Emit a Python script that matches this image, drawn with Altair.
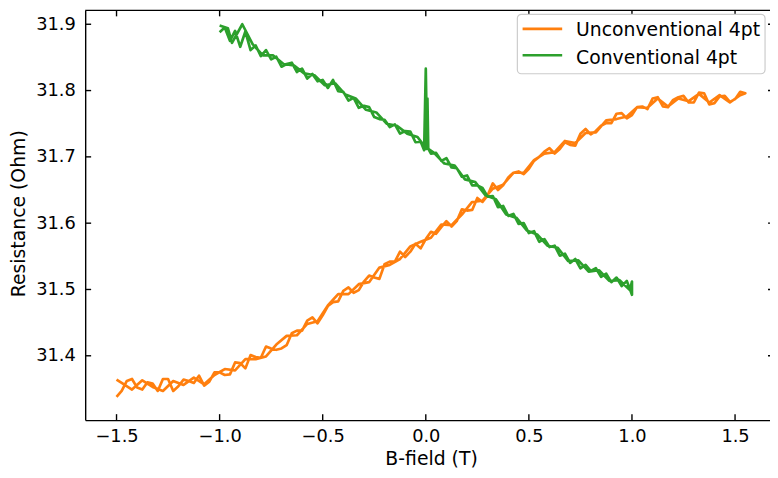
import altair as alt
import pandas as pd

U_NAME = "Unconventional 4pt"
C_NAME = "Conventional 4pt"
SERIES = [U_NAME, C_NAME]
COLORS = ["#ff7f0e", "#2ca02c"]

X_TICKS = [-1.5, -1.0, -0.5, 0.0, 0.5, 1.0, 1.5]
Y_TICKS = [31.4, 31.5, 31.6, 31.7, 31.8, 31.9]

# Unconventional 4pt: sweep up (two interleaved grids, merged by field)
U_FWD_B = [-1.50, -1.45, -1.40, -1.35, -1.30, -1.25, -1.20, -1.15, -1.10, -1.05,
           -1.00, -0.95, -0.90, -0.85, -0.80, -0.75, -0.70, -0.65, -0.60, -0.55,
           -0.50, -0.45, -0.40, -0.35, -0.30, -0.25, -0.20, -0.15, -0.10, -0.05,
           0.00, 0.05, 0.10, 0.15, 0.20, 0.25, 0.30, 0.35, 0.40, 0.45,
           0.50, 0.55, 0.60, 0.65, 0.70, 0.75, 0.80, 0.85, 0.90, 0.95,
           1.00, 1.05, 1.10, 1.15, 1.20, 1.25, 1.30, 1.35, 1.40, 1.45,
           1.50, 1.55]
U_FWD_R = [31.338, 31.362, 31.352, 31.360, 31.347, 31.365, 31.354, 31.362, 31.370, 31.361,
           31.375, 31.372, 31.389, 31.401, 31.397, 31.411, 31.411, 31.434, 31.438, 31.458,
           31.461, 31.481, 31.498, 31.495, 31.512, 31.518, 31.538, 31.542, 31.549, 31.569,
           31.576, 31.584, 31.603, 31.603, 31.619, 31.638, 31.642, 31.650, 31.669, 31.678,
           31.682, 31.700, 31.713, 31.712, 31.718, 31.735, 31.734, 31.747, 31.751, 31.766,
           31.763, 31.776, 31.788, 31.776, 31.786, 31.792, 31.782, 31.796, 31.781, 31.792,
           31.787, 31.796]
U_FWD_MID_B = [-1.475, -1.425, -1.375, -1.325, -1.275, -1.225, -1.175, -1.125, -1.075, -1.025,
               -0.975, -0.925, -0.875, -0.825, -0.775, -0.725, -0.675, -0.625, -0.575, -0.525,
               -0.475, -0.425, -0.375, -0.325, -0.275, -0.225, -0.175, -0.125, -0.075, -0.025,
               0.025, 0.075, 0.125, 0.175, 0.225, 0.275, 0.325, 0.375, 0.425, 0.475,
               0.525, 0.575, 0.625, 0.675, 0.725, 0.775, 0.825, 0.875, 0.925, 0.975,
               1.025, 1.075, 1.125, 1.175, 1.225, 1.275, 1.325, 1.375, 1.425, 1.475,
               1.525]
U_FWD_MID_R = [31.347, 31.365, 31.349, 31.358, 31.365, 31.347, 31.364, 31.359, 31.355, 31.375,
               31.371, 31.390, 31.381, 31.398, 31.414, 31.409, 31.416, 31.438, 31.453, 31.449,
               31.475, 31.482, 31.503, 31.499, 31.521, 31.516, 31.542, 31.557, 31.557, 31.562,
               31.587, 31.594, 31.595, 31.621, 31.620, 31.632, 31.660, 31.657, 31.676, 31.674,
               31.694, 31.708, 31.705, 31.722, 31.717, 31.742, 31.739, 31.751, 31.765, 31.758,
               31.775, 31.772, 31.790, 31.775, 31.790, 31.782, 31.797, 31.779, 31.791, 31.783,
               31.798]
# Unconventional 4pt: sweep down (listed by increasing field)
U_BWD_B = [-1.500, -1.475, -1.425, -1.375, -1.325, -1.275, -1.225, -1.175, -1.125, -1.075,
           -1.025, -0.975, -0.925, -0.875, -0.825, -0.775, -0.725, -0.675, -0.625, -0.575,
           -0.525, -0.475, -0.425, -0.375, -0.325, -0.275, -0.225, -0.175, -0.125, -0.075,
           -0.025, 0.025, 0.075, 0.125, 0.175, 0.225, 0.275, 0.325, 0.375, 0.425,
           0.475, 0.525, 0.575, 0.625, 0.675, 0.725, 0.775, 0.825, 0.875, 0.925,
           0.975, 1.025, 1.075, 1.125, 1.175, 1.225, 1.275, 1.325, 1.375, 1.425,
           1.475, 1.525]
U_BWD_R = [31.364, 31.359, 31.349, 31.363, 31.353, 31.347, 31.362, 31.356, 31.367, 31.357,
           31.371, 31.380, 31.378, 31.395, 31.395, 31.399, 31.417, 31.430, 31.431, 31.448,
           31.452, 31.476, 31.493, 31.493, 31.508, 31.511, 31.533, 31.537, 31.546, 31.565,
           31.572, 31.578, 31.598, 31.597, 31.613, 31.632, 31.634, 31.652, 31.658, 31.676,
           31.676, 31.695, 31.705, 31.707, 31.724, 31.721, 31.736, 31.737, 31.755, 31.757,
           31.761, 31.775, 31.774, 31.788, 31.776, 31.788, 31.784, 31.795, 31.782, 31.793,
           31.782, 31.793]

# Conventional 4pt: sweep up
C_FWD_B = [-1.000, -0.975, -0.950, -0.925, -0.900, -0.875, -0.850, -0.825, -0.800, -0.775,
           -0.750, -0.725, -0.700, -0.675, -0.650, -0.625, -0.600, -0.575, -0.550, -0.525,
           -0.500, -0.475, -0.450, -0.425, -0.400, -0.375, -0.350, -0.325, -0.300, -0.275,
           -0.250, -0.225, -0.200, -0.175, -0.150, -0.125, -0.100, -0.075, -0.050, -0.025,
           -0.008, 0.000, 0.006,
           0.025, 0.050, 0.075, 0.100, 0.125, 0.150, 0.175, 0.200, 0.225, 0.250,
           0.275, 0.300, 0.325, 0.350, 0.375, 0.400, 0.425, 0.450, 0.475, 0.500,
           0.525, 0.550, 0.575, 0.600, 0.625, 0.650, 0.675, 0.700, 0.725, 0.750,
           0.775, 0.800, 0.825, 0.850, 0.875, 0.900, 0.925, 0.950, 0.975, 1.000]
C_FWD_R = [31.888, 31.895, 31.875, 31.890, 31.866, 31.889, 31.861, 31.868, 31.852, 31.861,
           31.847, 31.851, 31.836, 31.840, 31.842, 31.828, 31.833, 31.818, 31.825, 31.814,
           31.816, 31.804, 31.816, 31.799, 31.798, 31.785, 31.789, 31.774, 31.777, 31.775,
           31.760, 31.757, 31.756, 31.745, 31.749, 31.735, 31.739, 31.738, 31.722, 31.723,
           31.710, 31.833, 31.716,
           31.705, 31.706, 31.694, 31.698, 31.684, 31.683, 31.670, 31.672, 31.657, 31.657,
           31.653, 31.640, 31.641, 31.624, 31.626, 31.611, 31.614, 31.599, 31.600, 31.585,
           31.588, 31.572, 31.576, 31.564, 31.566, 31.551, 31.554, 31.540, 31.546, 31.532,
           31.537, 31.528, 31.532, 31.519, 31.524, 31.511, 31.518, 31.505, 31.513, 31.492]
# Conventional 4pt: sweep down (in sweep order)
C_BWD_B = [1.000, 0.990, 0.940, 0.890, 0.840, 0.790, 0.740, 0.690, 0.640, 0.590,
           0.540, 0.490, 0.440, 0.390, 0.340, 0.290, 0.240, 0.190, 0.140, 0.090,
           0.040, 0.012, 0.008, 0.003, -0.040, -0.090, -0.140, -0.190, -0.240, -0.290,
           -0.340, -0.390, -0.440, -0.490, -0.540, -0.590, -0.640, -0.690, -0.740, -0.790,
           -0.840, -0.890, -0.940, -0.960, -1.000]
C_BWD_R = [31.512, 31.499, 31.514, 31.513, 31.529, 31.527, 31.544, 31.543, 31.563, 31.566,
           31.583, 31.589, 31.608, 31.613, 31.636, 31.642, 31.662, 31.666, 31.687, 31.690,
           31.706, 31.712, 31.788, 31.712, 31.730, 31.735, 31.747, 31.750, 31.767, 31.771,
           31.788, 31.794, 31.811, 31.808, 31.823, 31.826, 31.838, 31.840, 31.853, 31.853,
           31.870, 31.900, 31.872, 31.894, 31.898]

W, H = 692, 414
FONT = "DejaVu Sans"
X_DOMAIN = [-1.652, 1.6695]
Y_DOMAIN = [31.303, 31.9209]

rows = []
def add(name, pairs):
    start = len([r for r in rows if r["series"] == name])
    for i, (b, r) in enumerate(pairs):
        rows.append({"B": b, "R": r, "series": name, "idx": start + i})

u_up = sorted(list(zip(U_FWD_B, U_FWD_R)) + list(zip(U_FWD_MID_B, U_FWD_MID_R)))
add(U_NAME, u_up)
add(U_NAME, list(zip(U_BWD_B, U_BWD_R))[::-1])
add(C_NAME, list(zip(C_FWD_B, C_FWD_R)))
add(C_NAME, list(zip(C_BWD_B, C_BWD_R)))
df = pd.DataFrame(rows)

xscale = alt.Scale(domain=X_DOMAIN, nice=False, zero=False)
yscale = alt.Scale(domain=Y_DOMAIN, nice=False, zero=False)
cscale = alt.Scale(domain=SERIES, range=COLORS)
xaxis = alt.Axis(values=X_TICKS, format=".1f", title="B-field (T)", labelPadding=8,
                 titleX=349.5, titleY=45.3, titleAlign="center", titleBaseline="alphabetic")
yaxis = alt.Axis(values=Y_TICKS, format=".1f", title="Resistance (Ohm)", labelPadding=10,
                 titleX=-67, titleY=205, titleAlign="center", titleBaseline="middle",
                 titleAngle=270)

x_enc = alt.X("B:Q", scale=xscale, axis=xaxis)
y_enc = alt.Y("R:Q", scale=yscale, axis=yaxis)
color = alt.Color("series:N", scale=cscale, legend=None)

base = alt.Chart(df)
line_style = dict(strokeWidth=2.7, strokeJoin="round")
orange = base.transform_filter(alt.datum.series == U_NAME).mark_line(**line_style).encode(
    x=x_enc, y=y_enc, color=color, order="idx:Q")
green = base.transform_filter(alt.datum.series == C_NAME).mark_line(**line_style).encode(
    x=x_enc, y=y_enc, color=color, order="idx:Q")

# inward ticks (matplotlib style) and top spine
xt = pd.DataFrame({"B": X_TICKS})
yt = pd.DataFrame({"R": Y_TICKS})
tick_style = dict(color="black", strokeWidth=1.4)
bottom_ticks = alt.Chart(xt).mark_rule(**tick_style).encode(
    x=x_enc, y=alt.value(H - 6), y2=alt.value(H))
top_ticks = alt.Chart(xt).mark_rule(**tick_style).encode(
    x=x_enc, y=alt.value(0), y2=alt.value(6))
left_ticks = alt.Chart(yt).mark_rule(**tick_style).encode(
    y=y_enc, x=alt.value(0), x2=alt.value(6))
right_ticks = alt.Chart(yt).mark_rule(**tick_style).encode(
    y=y_enc, x=alt.value(W - 2), x2=alt.value(W))
top_spine = alt.Chart(pd.DataFrame({"a": [0]})).mark_rule(color="black", strokeWidth=1.4).encode(
    x=alt.value(0), x2=alt.value(W), y=alt.value(0))

# legend box (matplotlib style, upper right)
legend_layers = [
    alt.Chart(pd.DataFrame({"a": [0]})).mark_rect(
        fill="white", stroke="#cccccc", strokeWidth=1.2, cornerRadius=4).encode(
        x=alt.value(436.7), x2=alt.value(687), y=alt.value(4), y2=alt.value(64))
]
for i, name in enumerate(SERIES):
    one = alt.Chart(pd.DataFrame({"series": [name]}))
    legend_layers.append(one.mark_rule(strokeWidth=2.7).encode(
        x=alt.value(442), x2=alt.value(482), y=alt.value(18.7 + 26.6 * i),
        color=alt.Color("series:N", scale=cscale, legend=None)))
    legend_layers.append(one.mark_text(
        align="left", baseline="alphabetic", font=FONT, fontSize=19, color="black").encode(
        x=alt.value(496), y=alt.value(26.3 + 27.4 * i), text="series:N"))

chart = alt.layer(
    orange, green, bottom_ticks, top_ticks, left_ticks, right_ticks, top_spine, *legend_layers
).properties(
    width=W, height=H,
    padding={"left": 78, "top": 0, "right": 0, "bottom": 48},
    autosize=alt.AutoSizeParams(type="none"),
).configure_view(stroke=None).configure_axis(
    domainColor="black", domainWidth=1.4, tickSize=0, grid=False,
    labelFont=FONT, labelFontSize=18, labelColor="black",
    titleFont=FONT, titleFontSize=19, titleFontWeight="normal", titleColor="black",
)

chart.save("out.html", embed_options={"renderer": "svg", "actions": False})
